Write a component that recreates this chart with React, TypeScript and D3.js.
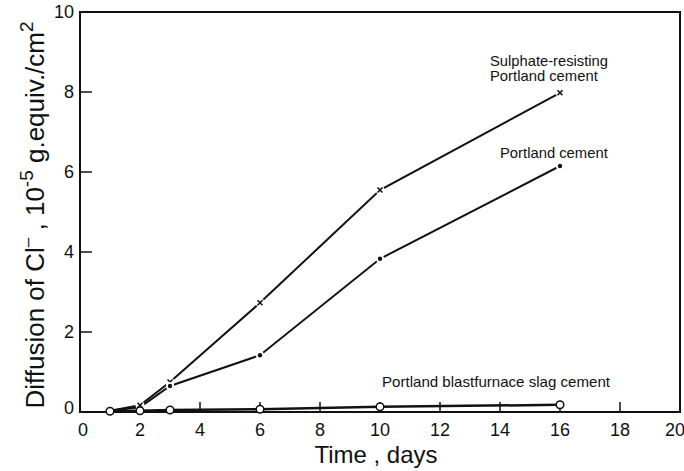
import React from "react";
import * as d3 from "d3";

const sulphateX = [1, 2, 3, 6, 10, 16];
const sulphateY = [0.03, 0.17, 0.75, 2.73, 5.55, 7.98];
const portlandX = [1, 2, 3, 6, 10, 16];
const portlandY = [0.03, 0.12, 0.65, 1.42, 3.83, 6.15];
const slagX = [1, 2, 3, 6, 10, 16];
const slagY = [0.02, 0.03, 0.05, 0.07, 0.13, 0.18];
const xTicks = [0, 2, 4, 6, 8, 10, 12, 14, 16, 18, 20];
const yTicks = [0, 2, 4, 6, 8, 10];

const W = 684, H = 471;
const m = { left: 80, right: 4, top: 12, bottom: 59 };

export default function App() {
  const x = d3.scaleLinear().domain([0, 20]).range([m.left, W - m.right]);
  const y = d3.scaleLinear().domain([0, 10]).range([H - m.bottom, m.top]);
  const line = d3.line<[number, number]>().x(d => x(d[0])).y(d => y(d[1]));
  const pts = (xs: number[], ys: number[]) => xs.map((v, i) => [v, ys[i]] as [number, number]);
  const s1 = pts(sulphateX, sulphateY);
  const s2 = pts(portlandX, portlandY);
  const s3 = pts(slagX, slagY);
  const font = "Liberation Sans, Arial, Helvetica, sans-serif";
  return (
    <svg width={W} height={H} style={{ position: "absolute", left: 0, top: 0 }} fontFamily={font}>
      <rect x={0} y={0} width={W} height={H} fill="#fff" />
      {/* frame */}
      <rect x={x(0)} y={y(10)} width={x(20) - x(0)} height={y(0) - y(10)} fill="none" stroke="#111" strokeWidth={2} />
      {xTicks.slice(1, -1).map(t => (
        <line key={"xt" + t} x1={x(t)} x2={x(t)} y1={y(0)} y2={y(0) - 10} stroke="#111" strokeWidth={1.5} />
      ))}
      {yTicks.slice(1, -1).map(t => (
        <line key={"yt" + t} x1={x(0)} x2={x(0) + 12} y1={y(t)} y2={y(t)} stroke="#111" strokeWidth={1.5} />
      ))}
      {xTicks.map(t => (
        <text key={"xl" + t} x={x(t) + (t === 0 ? 3 : t === 20 ? -5 : 0)} y={y(0) + 24} fontSize={18} textAnchor="middle" fill="#111">{t}</text>
      ))}
      {yTicks.map(t => (
        <text key={"yl" + t} x={x(0) - 6} y={y(t) + (t === 0 ? 2 : 6)} fontSize={18} textAnchor="end" fill="#111">{t}</text>
      ))}
      {/* lines */}
      <path d={line(s1) || ""} fill="none" stroke="#111" strokeWidth={2} />
      <path d={line(s2) || ""} fill="none" stroke="#111" strokeWidth={2} />
      <path d={line(s3) || ""} fill="none" stroke="#111" strokeWidth={2.5} />
      {/* markers */}
      {s1.slice(1).map((p, i) => (
        <g key={"m1" + i} transform={`translate(${x(p[0])},${y(p[1])})`}>
          <circle r={4.5} fill="#fff" />
          <path d="M-2.5,-2.5L2.5,2.5M-2.5,2.5L2.5,-2.5" stroke="#111" strokeWidth={1.6} />
        </g>
      ))}
      {s2.slice(2).map((p, i) => (
        <g key={"m2" + i} transform={`translate(${x(p[0])},${y(p[1])})`}>
          <circle r={4} fill="#fff" />
          <circle r={2.2} fill="#111" />
        </g>
      ))}
      {s3.map((p, i) => (
        <circle key={"m3" + i} cx={x(p[0])} cy={y(p[1])} r={3.8} fill="#fff" stroke="#111" strokeWidth={1.5} />
      ))}
      {/* annotations */}
      <text x={490} y={66} fontSize={14.8} fill="#111" textLength={118} lengthAdjust="spacingAndGlyphs">Sulphate-resisting</text>
      <text x={490} y={81} fontSize={14.8} fill="#111">Portland cement</text>
      <text x={500} y={158} fontSize={14.8} fill="#111">Portland cement</text>
      <text x={382} y={387} fontSize={14.8} fill="#111" textLength={228} lengthAdjust="spacingAndGlyphs">Portland blastfurnace slag cement</text>
      {/* axis titles */}
      <text x={376} y={463} fontSize={24} textAnchor="middle" fill="#111">Time , days</text>
      <text transform={`translate(44,${215}) rotate(-90)`} fontSize={26} textAnchor="middle" fill="#111">
        Diffusion of Cl<tspan dy={-11} fontSize={17}>–</tspan><tspan dy={11}> , 10</tspan><tspan dy={-11} fontSize={19}>-5</tspan><tspan dy={11}> g.equiv./cm</tspan><tspan dy={-11} fontSize={19}>2</tspan>
      </text>
    </svg>
  );
}
